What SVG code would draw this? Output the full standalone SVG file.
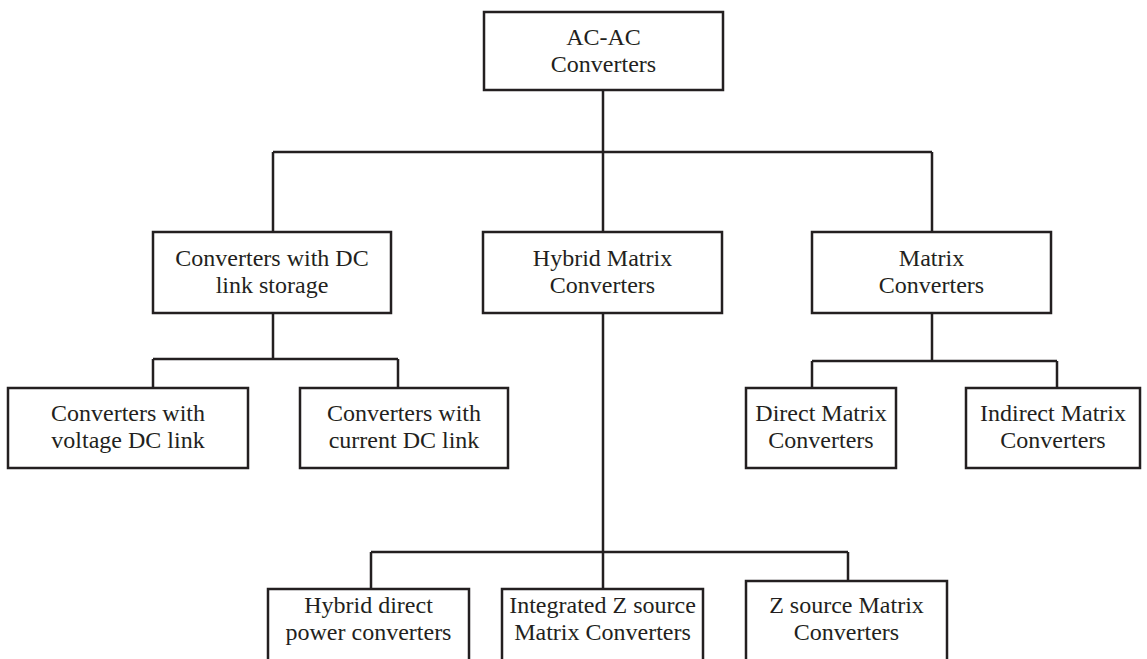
<svg xmlns="http://www.w3.org/2000/svg" width="1147" height="659" viewBox="0 0 1147 659">
<style>
.box{fill:#fff;stroke:#231f20;stroke-width:2.5}
.ln{fill:none;stroke:#231f20;stroke-width:2.5}
text{font-family:"Liberation Serif","Times New Roman",serif;font-size:24px;fill:#231f20;text-anchor:middle}
</style>
<rect width="1147" height="659" fill="#fff"/>
<g id="connectors">
<path class="ln" d="M603 90V232M273 152H932M273 152V232M932 152V232"/>
<path class="ln" d="M273 313V359M153 359H398M153 359V388M398 359V388"/>
<path class="ln" d="M932 313V361M812 361H1057M812 361V388M1057 361V388"/>
<path class="ln" d="M603 313V589M371 552H848M371 552V589M848 552V581"/>
</g>
<g id="n-acac"><rect class="box" x="484" y="12" width="239" height="78"/><text x="603.5" y="45">AC-AC</text><text x="603.5" y="72">Converters</text></g>
<g id="n-dclink"><rect class="box" x="153" y="232" width="238" height="81"/><text x="272" y="266">Converters with DC</text><text x="272" y="293">link storage</text></g>
<g id="n-hybrid"><rect class="box" x="483" y="232" width="239" height="81"/><text x="602.5" y="266">Hybrid Matrix</text><text x="602.5" y="293">Converters</text></g>
<g id="n-matrix"><rect class="box" x="812" y="232" width="239" height="81"/><text x="931.5" y="266">Matrix</text><text x="931.5" y="293">Converters</text></g>
<g id="n-voltage"><rect class="box" x="8" y="388" width="240" height="80"/><text x="128" y="421">Converters with</text><text x="128" y="448">voltage DC link</text></g>
<g id="n-current"><rect class="box" x="300" y="388" width="208" height="80"/><text x="404" y="421">Converters with</text><text x="404" y="448">current DC link</text></g>
<g id="n-direct"><rect class="box" x="746" y="388" width="150" height="80"/><text x="821" y="421">Direct Matrix</text><text x="821" y="448">Converters</text></g>
<g id="n-indirect"><rect class="box" x="966" y="388" width="174" height="80"/><text x="1053" y="421">Indirect Matrix</text><text x="1053" y="448">Converters</text></g>
<g id="n-hdpc"><rect class="box" x="268" y="589" width="201" height="90"/><text x="368.5" y="613">Hybrid direct</text><text x="368.5" y="640">power converters</text></g>
<g id="n-izs"><rect class="box" x="502" y="589" width="201" height="90"/><text x="602.5" y="613">Integrated Z source</text><text x="602.5" y="640">Matrix Converters</text></g>
<g id="n-zs"><rect class="box" x="746" y="581" width="201" height="98"/><text x="846.5" y="613">Z source Matrix</text><text x="846.5" y="640">Converters</text></g>
</svg>
